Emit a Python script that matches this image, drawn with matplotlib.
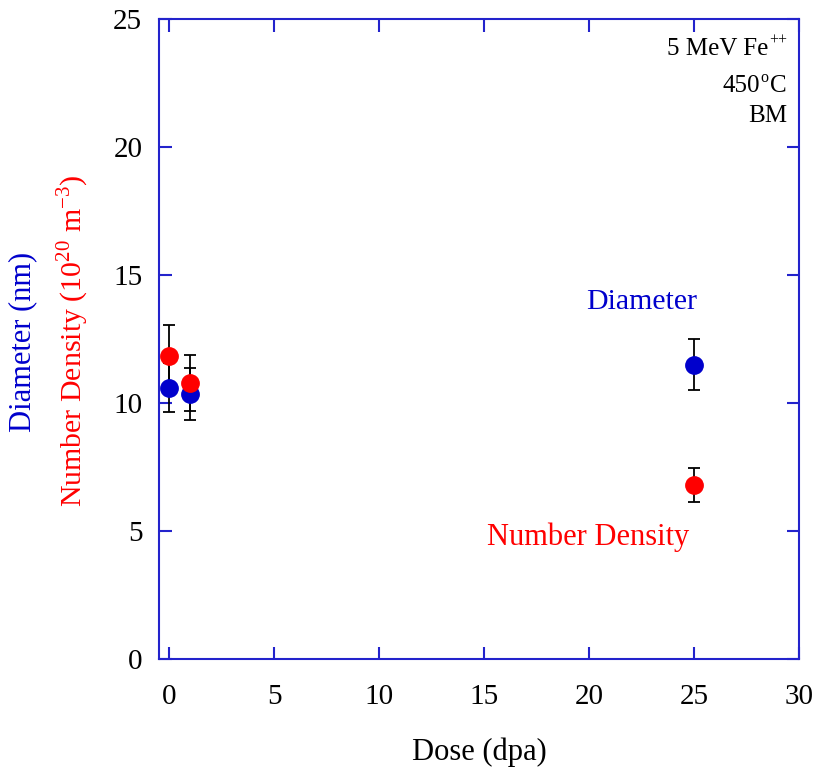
import matplotlib.pyplot as plt

# Data
dose = [0, 1, 25]
diameter = [10.6, 10.35, 11.5]
diameter_err = [0.95, 1.0, 1.0]
density = [11.85, 10.78, 6.8]
density_err = [1.2, 1.1, 0.65]

x_ticks = [0, 5, 10, 15, 20, 25, 30]
y_ticks = [0, 5, 10, 15, 20, 25]

plt.rcParams['font.family'] = ['Liberation Serif', 'DejaVu Serif']
plt.rcParams['mathtext.fontset'] = 'custom'
plt.rcParams['mathtext.rm'] = 'Liberation Serif'
axis_blue = '#2323cc'

fig = plt.figure(figsize=(8.17, 7.72), dpi=100)
ax = fig.add_axes([0.1946, 0.1464, 0.7834, 0.829])

# Error bars under the markers
ax.errorbar(dose, diameter, yerr=diameter_err, fmt='none', ecolor='black',
            elinewidth=1.3, capsize=4, capthick=1.3, zorder=2)
ax.errorbar(dose, density, yerr=density_err, fmt='none', ecolor='black',
            elinewidth=1.3, capsize=4, capthick=1.3, zorder=2)
ax.plot(dose, diameter, 'o', color='#0000cc', markersize=12.5, zorder=3)
ax.plot(dose, density, 'o', color='#ff0000', markersize=12.5, zorder=4)

ax.set_xlim(-0.5, 30)
ax.set_ylim(0, 25)
ax.set_xticks(x_ticks)
ax.set_yticks(y_ticks)

for s in ax.spines.values():
    s.set_color(axis_blue)
    s.set_linewidth(1.5)
ax.tick_params(direction='in', length=9, width=1.5, color=axis_blue,
               top=True, right=True, labelsize=21)
ax.tick_params(axis='x', pad=18)
ax.tick_params(axis='y', pad=12)

fig.text(0.587, 0.026, 'Dose (dpa)', fontsize=22, ha='center', va='center')

fig.text(0.028, 0.557, 'Diameter (nm)', rotation=90, color='#0000cc',
         fontsize=22, ha='center', va='center')
fig.text(0.089, 0.558, r'Number Density (10$^{\mathrm{20}}$ m$^{\mathrm{-3}}$)',
         rotation=90, color='#ff0000', fontsize=21.5, ha='center', va='center')

# Labels next to the series
ax.text(22.5, 13.95, 'Diameter', color='#0000cc', fontsize=21.5,
        ha='center', va='center')
ax.text(19.95, 4.77, 'Number Density', color='#ff0000', fontsize=22,
        ha='center', va='center')

# Conditions box, top right, with hand-placed superscripts
xr = 0.981
ax.annotate('++', (xr, 0.944), xycoords='axes fraction', xytext=(0, 7),
            textcoords='offset points', ha='right', va='baseline', fontsize=11.5)
ax.annotate('5 MeV Fe', (xr, 0.944), xycoords='axes fraction',
            xytext=(-13, 0), textcoords='offset points', ha='right',
            va='baseline', fontsize=18)
ax.annotate('C', (xr, 0.886), xycoords='axes fraction', ha='right',
            va='baseline', fontsize=18)
ax.annotate('o', (xr, 0.886), xycoords='axes fraction', xytext=(-13, 7),
            textcoords='offset points', ha='right', va='baseline', fontsize=11.5)
ax.annotate('450', (xr, 0.886), xycoords='axes fraction', xytext=(-19.5, 0),
            textcoords='offset points', ha='right', va='baseline', fontsize=18)
ax.annotate('BM', (xr, 0.839), xycoords='axes fraction', ha='right',
            va='baseline', fontsize=18)

plt.savefig('out.png', dpi=100)
